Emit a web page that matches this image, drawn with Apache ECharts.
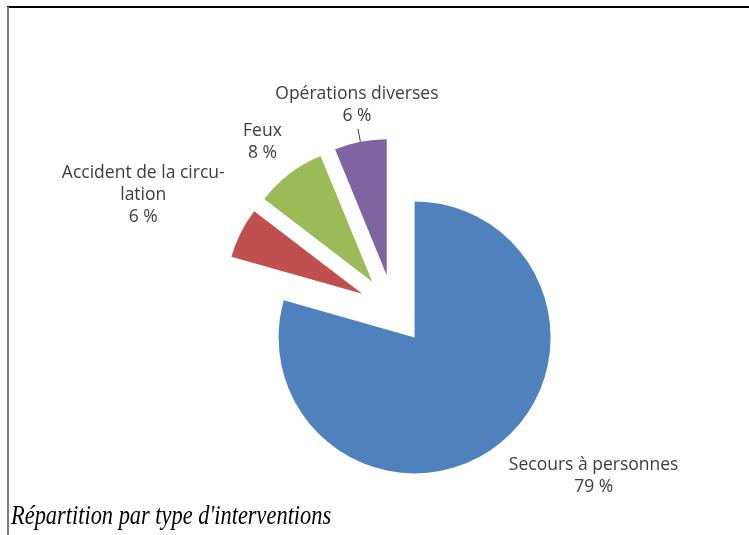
<!DOCTYPE html>
<html><head><meta charset="utf-8">
<script src="https://cdn.jsdelivr.net/npm/echarts@6/dist/echarts.min.js"></script>
<style>html,body{margin:0;padding:0;background:#fff}#c{width:749px;height:535px}</style>
</head><body><div id="c"></div>
<script>
// Data
const categories = ['Secours à personnes', 'Accident de la circu-\nlation', 'Feux', 'Opérations diverses'];
const values = [79.4, 6.0, 8.4, 6.2];
const title = "Répartition par type d'interventions";

// Styling
const colors = ['#4F81BD', '#C0504D', '#9BBB59', '#8064A2'];
const labelShift = [[53, 18], [-49, -31], [17, -20], [-1, -24]];

const chart = echarts.init(document.getElementById('c'), null, {renderer: 'canvas'});
chart.setOption({
  animation: false,
  graphic: [
    {type: 'line', shape: {x1: 7, y1: 7, x2: 749, y2: 7}, style: {stroke: '#000', lineWidth: 2}},
    {type: 'line', shape: {x1: 8, y1: 7, x2: 8, y2: 535}, style: {stroke: '#808080', lineWidth: 2}},
    {type: 'text', x: 11, y: 517, scaleX: 0.8,
     style: {text: title, font: 'italic 28px "Liberation Serif"', fill: '#000', verticalAlign: 'middle'}}
  ],
  series: [{
    type: 'pie',
    center: [393.5, 309.5],
    radius: 136,
    startAngle: 90,
    clockwise: true,
    selectedMode: 'multiple',
    selectedOffset: 35,
    emphasis: {disabled: true},
    avoidLabelOverlap: false,
    label: {
      show: true,
      formatter: p => p.name + '\n' + Math.round(p.percent) + ' %',
      fontFamily: 'Open Sans', fontSize: 17.5, color: '#3c3c3c', lineHeight: 22, align: 'center'
    },
    labelLine: {show: false},
    labelLayout: p => ({dx: labelShift[p.dataIndex][0], dy: labelShift[p.dataIndex][1], align: 'center', verticalAlign: 'middle'}),
    data: categories.map((c, i) => ({
      name: c, value: values[i], selected: true,
      itemStyle: {color: colors[i]},
      label: i === 3 ? {distanceToLabelLine: 0} : {},
      labelLine: i === 3 ? {show: true, length: 13, length2: 0, lineStyle: {color: '#3c3c3c', width: 1}} : {show: false}
    }))
  }]
});
</script></body></html>
